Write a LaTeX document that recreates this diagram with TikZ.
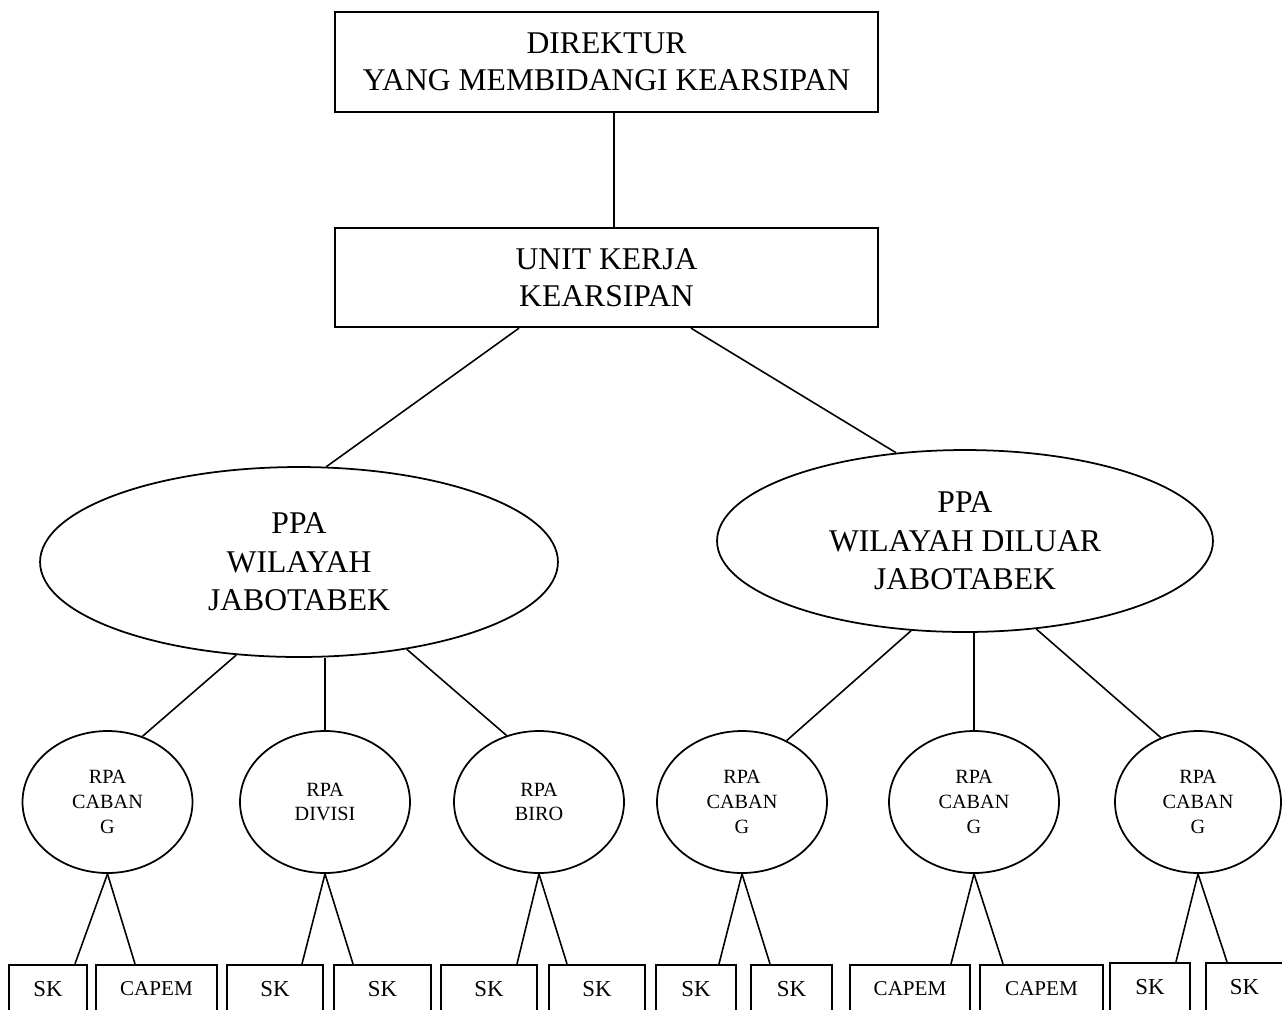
\documentclass[tikz,border=0pt]{standalone}
\usepackage{fontspec}
\setmainfont{Liberation Serif}
\usetikzlibrary{positioning,calc,shapes.geometric}

\begin{document}
\begin{tikzpicture}[x=0.02cm, y=-0.02cm]
	% Configurable sizes
	\def\boxWidth{10.86cm}
	\def\rpaWidth{3.4cm}
	\def\rpaHeight{2.84cm}

	% Styles
	\tikzstyle{bigbox}=[draw, rectangle, line width=1.3pt, minimum width=\boxWidth, minimum height=2cm, align=center, font={\fontsize{18}{21}\selectfont}]
	\tikzstyle{ppa}=[draw, ellipse, line width=1pt, inner sep=0pt, align=center, font={\fontsize{18}{22}\selectfont}]
	\tikzstyle{rpa}=[draw, ellipse, line width=1pt, inner sep=0pt, minimum width=\rpaWidth, minimum height=\rpaHeight, align=center, font={\fontsize{11.5}{14}\selectfont}]
	\tikzstyle{smallbox}=[draw, rectangle, line width=1.3pt, minimum height=0.96cm, inner sep=0pt, font={\fontsize{13}{15}\selectfont}]
	\tikzstyle{capem}=[smallbox, font={\fontsize{12}{14}\selectfont}]
	\tikzstyle{link}=[line width=0.9pt]

	\useasboundingbox (0,0) rectangle (1282,1009);

	% Top boxes
	\node[bigbox] (direktur) at (606.5,62) {DIREKTUR\\YANG MEMBIDANGI KEARSIPAN};
	\node[bigbox, minimum height=1.98cm] (unitkerja) at (606.5,277.5) {UNIT KERJA\\KEARSIPAN};

	% PPA
	\node[ppa, minimum width=10.36cm, minimum height=3.8cm] (ppajabo) at (299,562) {PPA\\WILAYAH\\JABOTABEK};
	\node[ppa, minimum width=9.92cm, minimum height=3.64cm] (ppaluar) at (965,541) {PPA\\WILAYAH DILUAR\\JABOTABEK};

	% RPA
	\node[rpa] (rpa1) at (107.5,802) {RPA\\CABAN\\G};
	\node[rpa] (rpa2) at (325,802) {RPA\\DIVISI};
	\node[rpa] (rpa3) at (539,802) {RPA\\BIRO};
	\node[rpa] (rpa4) at (742,802) {RPA\\CABAN\\G};
	\node[rpa] (rpa5) at (974,802) {RPA\\CABAN\\G};
	\node[rpa, minimum width=3.32cm] (rpa6) at (1198,802) {RPA\\CABAN\\G};

	% Bottom row
	\node[smallbox, minimum width=1.56cm] (sk1) at (48,989) {SK};
	\node[capem, minimum width=2.42cm] (capem1) at (156.5,989) {CAPEM};
	\node[smallbox, minimum width=1.92cm] (sk2) at (275,989) {SK};
	\node[smallbox, minimum width=1.94cm] (sk3) at (382.5,989) {SK};
	\node[smallbox, minimum width=1.92cm] (sk4) at (489,989) {SK};
	\node[smallbox, minimum width=1.92cm] (sk5) at (597,989) {SK};
	\node[smallbox, minimum width=1.6cm] (sk6) at (696,989) {SK};
	\node[smallbox, minimum width=1.62cm] (sk7) at (791.5,989) {SK};
	\node[capem, minimum width=2.4cm] (capem2) at (910,989) {CAPEM};
	\node[capem, minimum width=2.46cm] (capem3) at (1041.5,989) {CAPEM};
	\node[smallbox, minimum width=1.6cm] (sk8) at (1150,987) {SK};
	\node[smallbox, minimum width=1.54cm] (sk9) at (1244.5,987) {SK};

	% Upper links
	\draw[link] ($(direktur.south)+(7.5,0)$) -- ($(unitkerja.north)+(7.5,0)$);
	\draw[link] ($(unitkerja.south)+(-87.5,0)$) -- (ppajabo.74.1);
	\draw[link] ($(unitkerja.south)+(84.5,0)$) -- (ppaluar.128.7);

	% PPA to RPA
	\draw[link] (ppajabo.236.9) -- (rpa1.62.8);
	\draw[link] (rpa2.north |- ppajabo.south) -- (rpa2.north);
	\draw[link] (ppajabo.-39.4) -- (rpa3.116.2);
	\draw[link] (ppaluar.-121.7) -- (rpa4.54.6);
	\draw[link] (rpa5.north |- ppaluar.south) -- (rpa5.north);
	\draw[link] (ppaluar.-51.2) -- (rpa6.120.3);

	% RPA to bottom row
	\draw[link] (rpa1.south) -- ($(sk1.north)+(27,0)$);
	\draw[link] (rpa1.south) -- ($(capem1.north)+(-21.5,0)$);
	\draw[link] (rpa2.south) -- ($(sk2.north)+(27,0)$);
	\draw[link] (rpa2.south) -- ($(sk3.north)+(-29.5,0)$);
	\draw[link] (rpa3.south) -- ($(sk4.north)+(28,0)$);
	\draw[link] (rpa3.south) -- ($(sk5.north)+(-30,0)$);
	\draw[link] (rpa4.south) -- ($(sk6.north)+(23,0)$);
	\draw[link] (rpa4.south) -- ($(sk7.north)+(-21.5,0)$);
	\draw[link] (rpa5.south) -- ($(capem2.north)+(41,0)$);
	\draw[link] (rpa5.south) -- ($(capem3.north)+(-38.5,0)$);
	\draw[link] (rpa6.south) -- ($(sk8.north)+(26,0)$);
	\draw[link] (rpa6.south) -- ($(sk9.north)+(-17.5,0)$);
\end{tikzpicture}
\end{document}
